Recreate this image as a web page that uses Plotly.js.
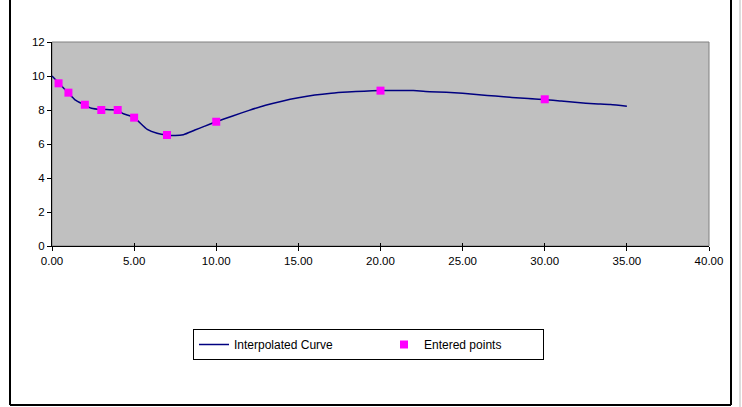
<!DOCTYPE html>
<html>
<head>
<meta charset="utf-8">
<script src="https://cdn.plot.ly/plotly-3.0.1.min.js"></script>
<style>html,body{margin:0;padding:0;background:#fff;}#chart{width:742px;height:407px;}</style>
</head>
<body>
<div id="chart"></div>
<script>
// Interpolated curve
const curveX = [0, 0.4, 1, 1.4, 2, 2.4, 3, 3.5, 4, 4.3, 5, 5.8, 6.4, 7, 7.5, 8, 8.7, 9.3, 10, 11, 12, 13, 14, 15, 16, 17, 18, 19, 20, 21, 22, 23, 24, 25, 26, 27, 28, 29, 30, 31, 32, 33, 34, 35];
const curveY = [10.0, 9.6, 9.0, 8.6, 8.3, 8.1, 8.03, 8.02, 8.0, 7.8, 7.55, 6.86, 6.63, 6.53, 6.5, 6.55, 6.82, 7.05, 7.31, 7.65, 7.98, 8.28, 8.52, 8.72, 8.88, 8.99, 9.06, 9.11, 9.14, 9.15, 9.14, 9.08, 9.04, 8.98, 8.9, 8.82, 8.74, 8.67, 8.62, 8.53, 8.44, 8.37, 8.32, 8.22];
// Entered points
const pointsX = [0.4, 1, 2, 3, 4, 5, 7, 10, 20, 30];
const pointsY = [9.57, 9.02, 8.31, 8.0, 8.0, 7.55, 6.53, 7.31, 9.14, 8.63];
const seriesNames = ["Interpolated Curve", "Entered points"];

const font = {family: "Liberation Sans, Arial, sans-serif", size: 11.5, color: "#000"};
const legendFont = {family: "Liberation Sans, Arial, sans-serif", size: 12, color: "#000"};

const traces = [
  {x: curveX, y: curveY, type: "scatter", mode: "lines", name: seriesNames[0],
   line: {color: "#000080", width: 1.5, shape: "spline", smoothing: 0.6}, legendwidth: 145},
  {x: pointsX, y: pointsY, type: "scatter", mode: "markers", name: seriesNames[1],
   marker: {symbol: "square", size: 8, color: "#FF00FF"}, legendwidth: 114}
];

const px = v => (v - 52) / 657, py = v => (246 - v) / 204;

const layout = {
  width: 742, height: 407,
  margin: {l: 52, r: 33, t: 42, b: 161},
  paper_bgcolor: "#ffffff", plot_bgcolor: "#C0C0C0",
  font: font, showlegend: true,
  xaxis: {range: [0, 40], dtick: 5, tick0: 0, tickformat: ".2f", showgrid: false, zeroline: false,
          showline: true, linecolor: "#000", linewidth: 1, ticks: "outside", ticklen: 4, tickcolor: "#000",
          tickfont: font, fixedrange: true},
  xaxis2: {overlaying: "x", matches: "x", range: [0, 40], dtick: 5, tick0: 0, showgrid: false, zeroline: false,
           showticklabels: false, ticks: "inside", ticklen: 3, tickcolor: "#000", side: "bottom", showline: false},
  yaxis: {range: [0, 12], dtick: 2, tick0: 0, showgrid: false, zeroline: false,
          showline: true, linecolor: "#000", linewidth: 1, ticks: "outside", ticklen: 4, tickcolor: "#000",
          tickfont: font, fixedrange: true},
  legend: {orientation: "h", x: px(193), xanchor: "left", y: py(329), yanchor: "top",
           bordercolor: "#000", borderwidth: 1, bgcolor: "#fff", font: legendFont, itemclick: false},
  shapes: [
    {type: "rect", xref: "paper", yref: "paper", x0: 0, x1: 1, y0: 0, y1: 1, line: {color: "#808080", width: 1}, layer: "below"},
    {type: "line", xref: "paper", yref: "paper", x0: px(10), x1: px(10), y0: py(0), y1: py(405), line: {color: "#000", width: 2}},
    {type: "line", xref: "paper", yref: "paper", x0: px(10), x1: px(731), y0: py(405), y1: py(405), line: {color: "#000", width: 2}},
    {type: "line", xref: "paper", yref: "paper", x0: px(731), x1: px(731), y0: py(0), y1: py(405), line: {color: "#000", width: 2}},
    {type: "line", xref: "paper", yref: "paper", x0: px(740), x1: px(740), y0: py(0), y1: py(407), line: {color: "#bbb", width: 1}}
  ]
};

// invisible trace to bind the inside tick marks of xaxis2
traces.push({x: [0], y: [0], xaxis: "x2", type: "scatter", mode: "markers", marker: {opacity: 0}, showlegend: false, hoverinfo: "skip"});

Plotly.newPlot("chart", traces, layout, {staticPlot: true});
</script>
</body>
</html>
